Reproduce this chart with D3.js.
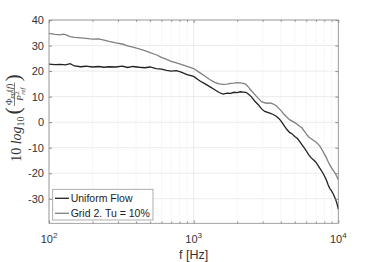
<!DOCTYPE html>
<html><head><meta charset="utf-8">
<script src="https://cdn.jsdelivr.net/npm/d3@7"></script>
<style>body{margin:0;background:#fff}svg{display:block}</style>
</head><body><svg id="c" width="374" height="262"></svg>
<script>
const freqs = [100,110,120,125,130,140,150,165,180,200,220,240,260,290,320,350,380,420,460,500,550,600,650,700,760,820,900,1000,1100,1200,1300,1400,1500,1600,1700,1800,1900,2000,2100,2200,2300,2400,2500,2650,2800,2950,3100,3250,3400,3550,3700,3850,4000,4200,4400,4600,4800,5000,5200,5400,5600,5800,6000,6250,6500,6750,7000,7250,7500,7750,8000,8250,8500,8750,9000,9250,9500,9750,10000];
const uniformFlow = [22.7,22.5,22.6,22.5,22.4,22.9,22.0,21.7,21.9,21.6,21.8,21.5,21.7,21.6,21.9,21.4,21.8,21.5,21.3,21.6,21.0,20.8,20.3,20.0,20.2,19.6,18.6,17.9,16.2,15.0,13.8,12.7,11.6,11.0,11.4,11.3,11.7,11.6,11.9,11.8,11.7,10.9,10.0,8.2,6.8,5.2,4.2,3.8,3.4,3.0,2.4,1.6,0.6,-1.2,-2.8,-4.0,-4.6,-5.6,-6.3,-7.5,-8.8,-10.0,-11.2,-12.8,-14.0,-14.8,-15.7,-17.0,-18.3,-19.5,-21.0,-22.5,-24.5,-26.0,-27.0,-28.2,-29.8,-31.5,-34.0];
const grid2 = [34.8,34.4,34.2,34.5,34.3,33.5,33.2,33.0,32.8,32.5,32.6,32.1,31.6,31.0,30.6,29.9,29.4,28.7,28.0,27.2,26.4,25.4,24.6,23.8,23.2,22.6,21.8,21.0,19.4,18.0,16.6,15.6,15.0,14.8,14.9,15.2,15.3,15.5,15.4,15.2,14.8,13.6,12.4,10.8,9.3,8.0,7.6,7.4,7.5,7.1,6.5,5.6,4.6,3.2,2.0,1.0,0.4,-0.2,-0.8,-1.6,-2.2,-3.4,-4.6,-5.8,-6.5,-7.2,-7.8,-8.6,-9.6,-11.0,-12.4,-13.8,-15.4,-16.8,-18.0,-19.0,-20.0,-21.2,-22.5];
const seriesNames = ["Uniform Flow","Grid 2. Tu = 10%"];
const yTicks = [-30,-20,-10,0,10,20,30,40];
const xTicks = [100,1000,10000];
const xTickExp = ["2","3","4"];

const svg = d3.select("#c");
const L=49, R=338.3, T=20, B=223.3;
const x = d3.scaleLog().domain([100,10000]).range([L,R]);
const y = d3.scaleLinear().domain([-39.6,40]).range([B,T]);
const minorX = [];
[100,1000].forEach(d=>{for(let k=2;k<=9;k++) minorX.push(d*k);});

// grid
const g = svg.append("g");
g.selectAll(".mg").data(minorX).enter().append("line")
  .attr("x1",d=>x(d)).attr("x2",d=>x(d)).attr("y1",T).attr("y2",B)
  .attr("stroke","#e4e4e4").attr("stroke-width",0.8).attr("stroke-dasharray","1,1.5");
g.selectAll(".gx").data(xTicks).enter().append("line")
  .attr("x1",d=>x(d)).attr("x2",d=>x(d)).attr("y1",T).attr("y2",B)
  .attr("stroke","#e6e6e6").attr("stroke-width",0.8);
g.selectAll(".gy").data(yTicks).enter().append("line")
  .attr("x1",L).attr("x2",R).attr("y1",d=>y(d)).attr("y2",d=>y(d))
  .attr("stroke","#e6e6e6").attr("stroke-width",0.8);

// lines
const line = d3.line().x((d,i)=>x(freqs[i])).y(d=>y(d));
svg.append("path").datum(grid2).attr("d",line).attr("fill","none").attr("stroke","#808080").attr("stroke-width",1.3);
svg.append("path").datum(uniformFlow).attr("d",line).attr("fill","none").attr("stroke","#222").attr("stroke-width",1.3);

// axes box
const ax = svg.append("g");
ax.append("rect").attr("x",L).attr("y",T).attr("width",R-L).attr("height",B-T).attr("fill","none").attr("stroke","#8c8c8c").attr("stroke-width",0.8);
const axisL = d3.axisLeft(y).tickValues(yTicks).tickSize(-3).tickFormat(d=>d);
const gl = svg.append("g").attr("transform",`translate(${L},0)`).call(axisL);
gl.select(".domain").remove();
gl.selectAll(".tick line").attr("stroke","#8c8c8c");
gl.selectAll(".tick text").attr("x",-5).attr("font-family","Liberation Sans, Arial, sans-serif").attr("font-size",11).attr("fill","#333");
const axisR = d3.axisRight(y).tickValues(yTicks).tickSize(-3).tickFormat("");
const gr = svg.append("g").attr("transform",`translate(${R},0)`).call(axisR);
gr.select(".domain").remove(); gr.selectAll(".tick line").attr("stroke","#8c8c8c");
[[B,d3.axisBottom],[T,d3.axisTop]].forEach(([yy,fn])=>{
  const a1 = svg.append("g").attr("transform",`translate(0,${yy})`).call(fn(x).tickValues(xTicks).tickSize(-3).tickFormat(""));
  a1.select(".domain").remove(); a1.selectAll(".tick line").attr("stroke","#8c8c8c");
  const a2 = svg.append("g").attr("transform",`translate(0,${yy})`).call(fn(x).tickValues(minorX).tickSize(-1.8).tickFormat(""));
  a2.select(".domain").remove(); a2.selectAll(".tick line").attr("stroke","#8c8c8c");
});
// x tick labels
const xl = svg.append("g").attr("font-family","Liberation Sans, Arial, sans-serif").attr("fill","#333");
xTicks.forEach((t,i)=>{
  const tx = xl.append("text").attr("x",x(t)).attr("y",243).attr("text-anchor","middle").attr("font-size",11);
  tx.append("tspan").text("10");
  tx.append("tspan").attr("font-size",8).attr("dy",-5).text(xTickExp[i]);
});
svg.append("text").attr("x",(L+R)/2).attr("y",259).attr("text-anchor","middle")
  .attr("font-family","Liberation Sans, Arial, sans-serif").attr("font-size",12.5).attr("fill","#333").text("f [Hz]");

// y label (math)
const yl = svg.append("g").attr("transform","translate(21,118) rotate(-90)").attr("fill","#333").attr("font-family","Liberation Serif, Times New Roman, serif");
const parts = yl.append("g");
let cx = 0;
function put(txt, size, dy, italic){
  const t = parts.append("text").attr("x",cx).attr("y",dy).attr("font-size",size).attr("font-style",italic?"italic":"normal").text(txt);
  const w = t.node().getComputedTextLength();
  cx += w;
  return w;
}
put("10",14,0); cx+=3.5;
put("log",14,0,true);
put("10",10,3);
cx+=2;
put("(",22,-1.5);
cx+=1;
// fraction
const fx = cx;
const num = parts.append("text").attr("y",-9.5).attr("font-size",9);
num.append("tspan").text("Φ");
num.append("tspan").attr("font-size",6.5).attr("dy",2).attr("font-style","italic").text("pp");
num.append("tspan").attr("dy",-2).text("(");
num.append("tspan").attr("font-style","italic").text("f");
num.append("tspan").text(")");
const nw = num.node().getComputedTextLength();
const den = parts.append("g");
const dP = den.append("text").attr("y",1.5).attr("font-size",9).attr("font-style","italic").text("P");
const pw = dP.node().getComputedTextLength();
den.append("text").attr("x",pw+0.5).attr("y",-2.5).attr("font-size",6.5).text("2");
const dr = den.append("text").attr("x",pw+0.5).attr("y",4).attr("font-size",6.5).attr("font-style","italic").text("ref");
const dw = pw+0.5+dr.node().getComputedTextLength();
const fw = Math.max(nw,dw)+2;
num.attr("x",fx+(fw-nw)/2);
den.attr("transform",`translate(${fx+(fw-dw)/2},0)`);
parts.append("line").attr("x1",fx).attr("x2",fx+fw).attr("y1",-6.5).attr("y2",-6.5).attr("stroke","#333").attr("stroke-width",0.6);
cx = fx+fw+1;
put(")",22,-1.5);
parts.attr("transform",`translate(${-cx/2},0)`);

// legend
const lg = svg.append("g");
lg.append("rect").attr("x",52.7).attr("y",189.3).attr("width",100.3).attr("height",30.7).attr("fill","#fff").attr("stroke","#999").attr("stroke-width",0.8);
const lcol = ["#222","#808080"];
seriesNames.forEach((n,i)=>{
  const yy = 198.3 + i*15;
  lg.append("line").attr("x1",55).attr("x2",69).attr("y1",yy).attr("y2",yy).attr("stroke",lcol[i]).attr("stroke-width",1.3);
  lg.append("text").attr("x",70.7).attr("y",yy+3.7).attr("font-family","Liberation Sans, Arial, sans-serif").attr("font-size",10.5).attr("fill","#222").text(n);
});
</script></body></html>
